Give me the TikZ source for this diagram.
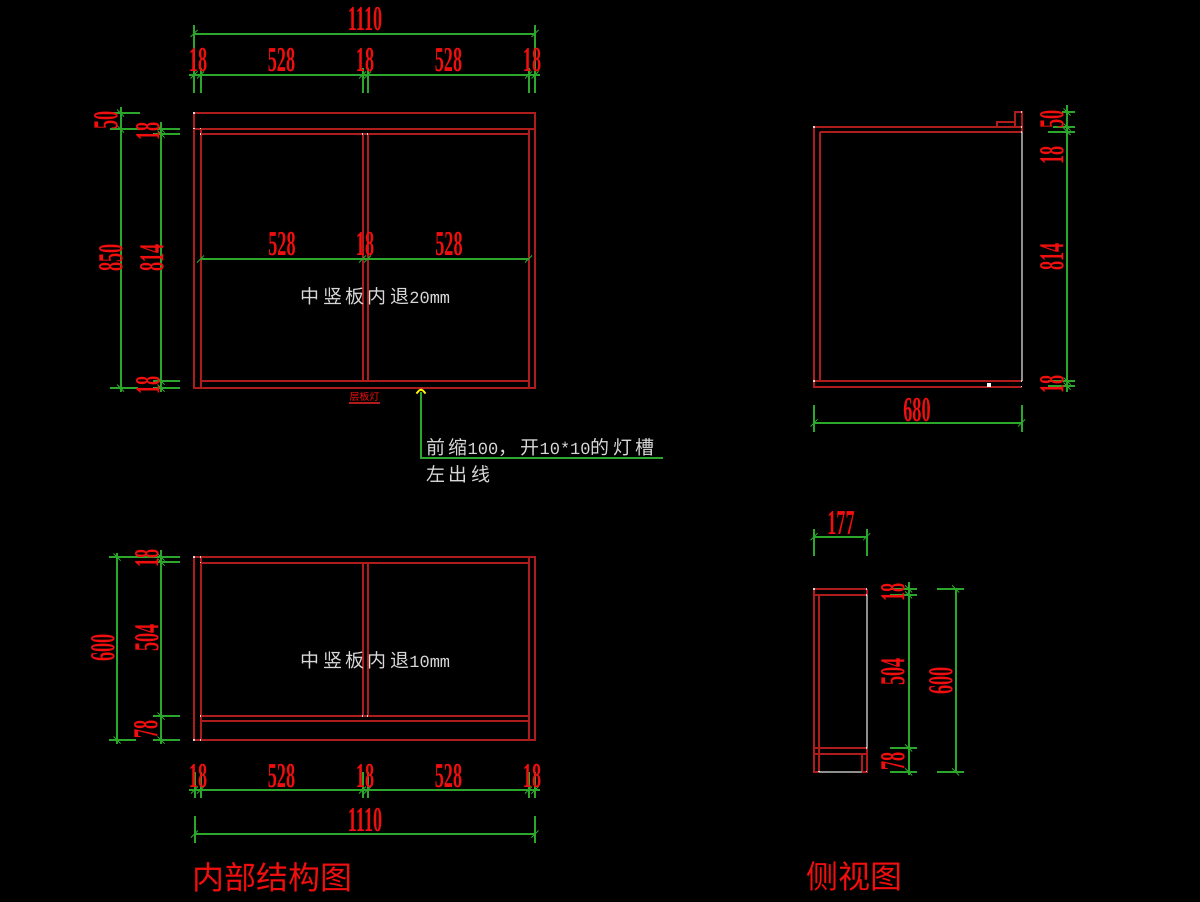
\documentclass[tikz,border=0pt]{standalone}
\usepackage{fontspec}
\setmainfont{Liberation Serif}
\setmonofont{Liberation Mono}
\newfontfamily\cjk{Noto Sans CJK SC}
\newfontfamily\cjknote[LetterSpace=18]{Noto Sans CJK SC}
\definecolor{cadred}{HTML}{AE1C1C}
\definecolor{cadgreen}{HTML}{2BA82B}
\definecolor{cadtext}{HTML}{F00E0E}
\definecolor{cadgray}{HTML}{8E8E8E}
\definecolor{cadwhite}{HTML}{D8D8D8}
\newcommand{\dimt}[1]{\scalebox{.52}[1]{\fontsize{35}{35}\selectfont\bfseries #1}}
\newcommand{\hw}[1]{{\fontsize{17}{20}\selectfont\ttfamily #1}}
\newcommand{\tickh}[2]{\draw[dimline,line width=.8pt] (#1-3.5,#2+3.5) -- (#1+3.5,#2-3.5);}
\newcommand{\tickv}[2]{\draw[dimline,line width=.8pt] (#1-3.5,#2-3.5) -- (#1+3.5,#2+3.5);}
\tikzset{
  part/.style={draw=cadred,line width=2pt},
  grayedge/.style={draw=cadgray,line width=2pt},
  dimline/.style={draw=cadgreen,line width=2pt},
  dimlabel/.style={text=cadtext,inner sep=0pt},
  dimv/.style={dimlabel,rotate=90},
  note/.style={text=cadwhite,inner sep=0pt,anchor=west,font=\cjknote\fontsize{19}{20}\selectfont},
  titletext/.style={text=cadtext,inner sep=0pt,anchor=west,font=\cjk\fontsize{32}{33}\selectfont},
}
\begin{document}
\begin{tikzpicture}[x=1pt,y=-1pt]
\fill[black] (0,0) rectangle (1200,902);
\useasboundingbox (0,0) rectangle (1200,902);

% ---------- upper front view
\draw[part] (194,113) rectangle (535,388);
\draw[part] (194,128.5) -- (535,128.5);
\draw[part] (200.5,134) -- (528.5,134);
\draw[part] (200.5,381) -- (528.5,381);
\draw[part] (200.5,128.5) -- (200.5,388);
\draw[part] (528.5,128.5) -- (528.5,388);
\draw[part] (362.5,134) -- (362.5,381);
\draw[part] (367.5,134) -- (367.5,381);

% top dimensions
\draw[dimline] (194,33.5) -- (535,33.5);
\draw[dimline] (194,25) -- (194,93);
\draw[dimline] (535,25) -- (535,93);
\draw[dimline] (189,75) -- (540,75);
\foreach \x in {200.5,362.5,367.5,528.5} \draw[dimline] (\x,68) -- (\x,93);
\foreach \x in {194,535} {\tickh{\x}{33.5}}
\foreach \x in {194,200.5,362.5,367.5,528.5,535} {\tickh{\x}{75}}
\node[dimlabel] (t1110) at (365,19) {\dimt{1110}};
\node[dimlabel] (t18a) at (198,60) {\dimt{18}};
\node[dimlabel] (t528a) at (281.5,60) {\dimt{528}};
\node[dimlabel] (t18b) at (365,60) {\dimt{18}};
\node[dimlabel] (t528b) at (448.5,60) {\dimt{528}};
\node[dimlabel] (t18c) at (532,60) {\dimt{18}};

% left dimensions
\draw[dimline] (120.5,107) -- (120.5,392);
\draw[dimline] (112,113) -- (140,113);
\draw[dimline] (110,129) -- (140,129);
\draw[dimline] (110,388) -- (138,388);
\draw[dimline] (161,122) -- (161,392);
\draw[dimline] (153,129) -- (180,129);
\draw[dimline] (153,134) -- (180,134);
\draw[dimline] (153,381) -- (180,381);
\draw[dimline] (153,388) -- (180,388);
\foreach \y in {113,129,388} {\tickv{120.5}{\y}}
\foreach \y in {129,134,381,388} {\tickv{161}{\y}}
\node[dimv] (l50) at (106,120) {\dimt{50}};
\node[dimv] (l18a) at (148,131) {\dimt{18}};
\node[dimv] (l850) at (111,258) {\dimt{850}};
\node[dimv] (l814) at (152,258) {\dimt{814}};
\node[dimv] (l18b) at (148,385) {\dimt{18}};

% middle dimensions
\draw[dimline] (200.5,259) -- (528.5,259);
\foreach \x in {200.5,362.5,367.5,528.5} {\tickh{\x}{259}}
\node[dimlabel] (m528a) at (282,244) {\dimt{528}};
\node[dimlabel] (m18) at (365,244) {\dimt{18}};
\node[dimlabel] (m528b) at (449,244) {\dimt{528}};
\node[note] (n20) at (300.5,296) {中竖板内退\hw{20mm}};

% small label and leader
\node[text=cadtext,inner sep=0pt,font=\cjk\fontsize{10}{10}\selectfont] (lamp) at (364.5,397) {层板灯};
\draw[draw=cadred,line width=1.1pt] (349,403) -- (380,403);
\coordinate (arrowtip) at (421,392);
\coordinate (leadcorner) at (421,458);
\coordinate (leadend) at (663,458);
\draw[dimline] (arrowtip) -- (leadcorner) -- (leadend);
\draw[draw=yellow,line width=1.8pt] (416.5,393.5) .. controls (418,391) and (420,389.5) .. (421,389.5) .. controls (422,389.5) and (424,391) .. (425.5,393.5);
\node[note] (n100) at (426,447) {前缩\hw{100}，开\hw{10*10}的灯槽};
\node[note] (nleft) at (426,474.5) {左出线};

% ---------- upper side view
\draw[part] (1021.5,127) -- (814,127) -- (814,386.5) -- (1021.5,386.5);
\draw[part] (819.5,132) -- (1021.5,132);
\draw[part] (814,381) -- (1021.5,381);
\draw[part] (819.5,132) -- (819.5,381);
\draw[part] (997,127) -- (997,122) -- (1015,122);
\draw[part] (1015,127) -- (1015,112) -- (1021.5,112) -- (1021.5,132);
\draw[grayedge] (1021.5,132) -- (1021.5,381);
\fill[white] (986.5,382.5) rectangle (990.5,386.5);
\draw[dimline] (1067,105) -- (1067,392);
\draw[dimline] (1062,112) -- (1075,112);
\draw[dimline] (1053,127) -- (1075,127);
\draw[dimline] (1048,131.5) -- (1075,131.5);
\draw[dimline] (1048,381) -- (1075,381);
\draw[dimline] (1048,386) -- (1075,386);
\foreach \y in {112,127,131.5,381,386} {\tickv{1067}{\y}}
\node[dimv] (s50) at (1052,119) {\dimt{50}};
\node[dimv] (s18a) at (1052,155) {\dimt{18}};
\node[dimv] (s814) at (1052,257) {\dimt{814}};
\node[dimv] (s18b) at (1052,384) {\dimt{18}};
\draw[dimline] (814,423) -- (1021.5,423);
\draw[dimline] (814,405) -- (814,432);
\draw[dimline] (1021.5,405) -- (1021.5,432);
\foreach \x in {814,1021.5} {\tickh{\x}{423}}
\node[dimlabel] (s680) at (917,410) {\dimt{680}};

% ---------- lower front view
\draw[part] (194,557) rectangle (535,740);
\draw[part] (200.5,562.5) -- (528.5,562.5);
\draw[part] (200.5,716) -- (528.5,716);
\draw[part] (200.5,721) -- (528.5,721);
\draw[part] (200.5,557) -- (200.5,740);
\draw[part] (528.5,557) -- (528.5,740);
\draw[part] (362.5,562.5) -- (362.5,716);
\draw[part] (367.5,562.5) -- (367.5,716);
\node[note] (n10) at (300.5,660) {中竖板内退\hw{10mm}};

\draw[dimline] (117,553) -- (117,744);
\draw[dimline] (109,557) -- (180,557);
\draw[dimline] (109,740) -- (136,740);
\draw[dimline] (161,550) -- (161,744);
\draw[dimline] (153,562) -- (180,562);
\draw[dimline] (153,716) -- (180,716);
\draw[dimline] (153,740) -- (180,740);
\foreach \y in {557,740} {\tickv{117}{\y}}
\foreach \y in {557,562,716,740} {\tickv{161}{\y}}
\node[dimv] (b600) at (103,648) {\dimt{600}};
\node[dimv] (b504) at (147,638) {\dimt{504}};
\node[dimv] (b18) at (147,558) {\dimt{18}};
\node[dimv] (b78) at (146,729) {\dimt{78}};

\draw[dimline] (189,790) -- (540,790);
\foreach \x in {194.5,200.5,362.5,367.5,528.5,535} {
  \draw[dimline] (\x,772) -- (\x,798);
  \tickh{\x}{790}
}
\node[dimlabel] (d18a) at (198,776) {\dimt{18}};
\node[dimlabel] (d528a) at (281.5,776) {\dimt{528}};
\node[dimlabel] (d18b) at (365,776) {\dimt{18}};
\node[dimlabel] (d528b) at (448.5,776) {\dimt{528}};
\node[dimlabel] (d18c) at (532,776) {\dimt{18}};
\draw[dimline] (194.5,834) -- (535,834);
\draw[dimline] (194.5,816) -- (194.5,843);
\draw[dimline] (535,816) -- (535,843);
\foreach \x in {194.5,535} {\tickh{\x}{834}}
\node[dimlabel] (d1110) at (365,820) {\dimt{1110}};

% ---------- lower side view
\draw[part] (866.7,589) -- (814,589) -- (814,771.7) -- (819,771.7);
\draw[part] (814,595) -- (866.7,595);
\draw[part] (819,595) -- (819,771.7);
\draw[part] (814,748) -- (866.7,748);
\draw[part] (814,754.3) -- (866.7,754.3);
\draw[part] (861.7,754.3) -- (861.7,771.7) -- (866.7,771.7) -- (866.7,748);
\draw[part] (866.7,589) -- (866.7,595);
\draw[grayedge] (866.7,595) -- (866.7,748);
\draw[grayedge] (819,771.7) -- (861.7,771.7);
\draw[dimline] (814,536.7) -- (866.7,536.7);
\draw[dimline] (814,529) -- (814,556);
\draw[dimline] (866.7,529) -- (866.7,556);
\foreach \x in {814,866.7} {\tickh{\x}{536.7}}
\node[dimlabel] (r177) at (841,523) {\dimt{177}};
\draw[dimline] (908.7,582) -- (908.7,775);
\foreach \y in {589,595,748,772} {
  \draw[dimline] (890,\y) -- (917,\y);
  \tickv{908.7}{\y}
}
\draw[dimline] (955.7,589) -- (955.7,772);
\foreach \y in {589,772} {
  \draw[dimline] (937,\y) -- (964,\y);
  \tickv{955.7}{\y}
}
\node[dimv] (r18) at (893,592) {\dimt{18}};
\node[dimv] (r504) at (893,672) {\dimt{504}};
\node[dimv] (r78) at (893,761) {\dimt{78}};
\node[dimv] (r600) at (941,681) {\dimt{600}};

% corner dots
\foreach \x/\y in {194/113,194/128.5,200.5/128.5,200.5/134,362.5/134,367.5/134,194/557,200.5/557,200.5/562.5,200.5/716,362.5/716,367.5/716,194/740,200.5/740,814/589,866.7/589,866.7/595,866.7/748,814/127,1021.5/112,1021.5/127,1021.5/132,1021.5/381,1021.5/386.5,814/381,866.7/771.7,819/771.7} {
  \fill[cadwhite] (\x-.7,\y-.7) rectangle (\x+.7,\y+.7);
}

% titles
\node[titletext] (title1) at (192,877) {内部结构图};
\node[titletext] (title2) at (806,876) {侧视图};
\end{tikzpicture}
\end{document}
